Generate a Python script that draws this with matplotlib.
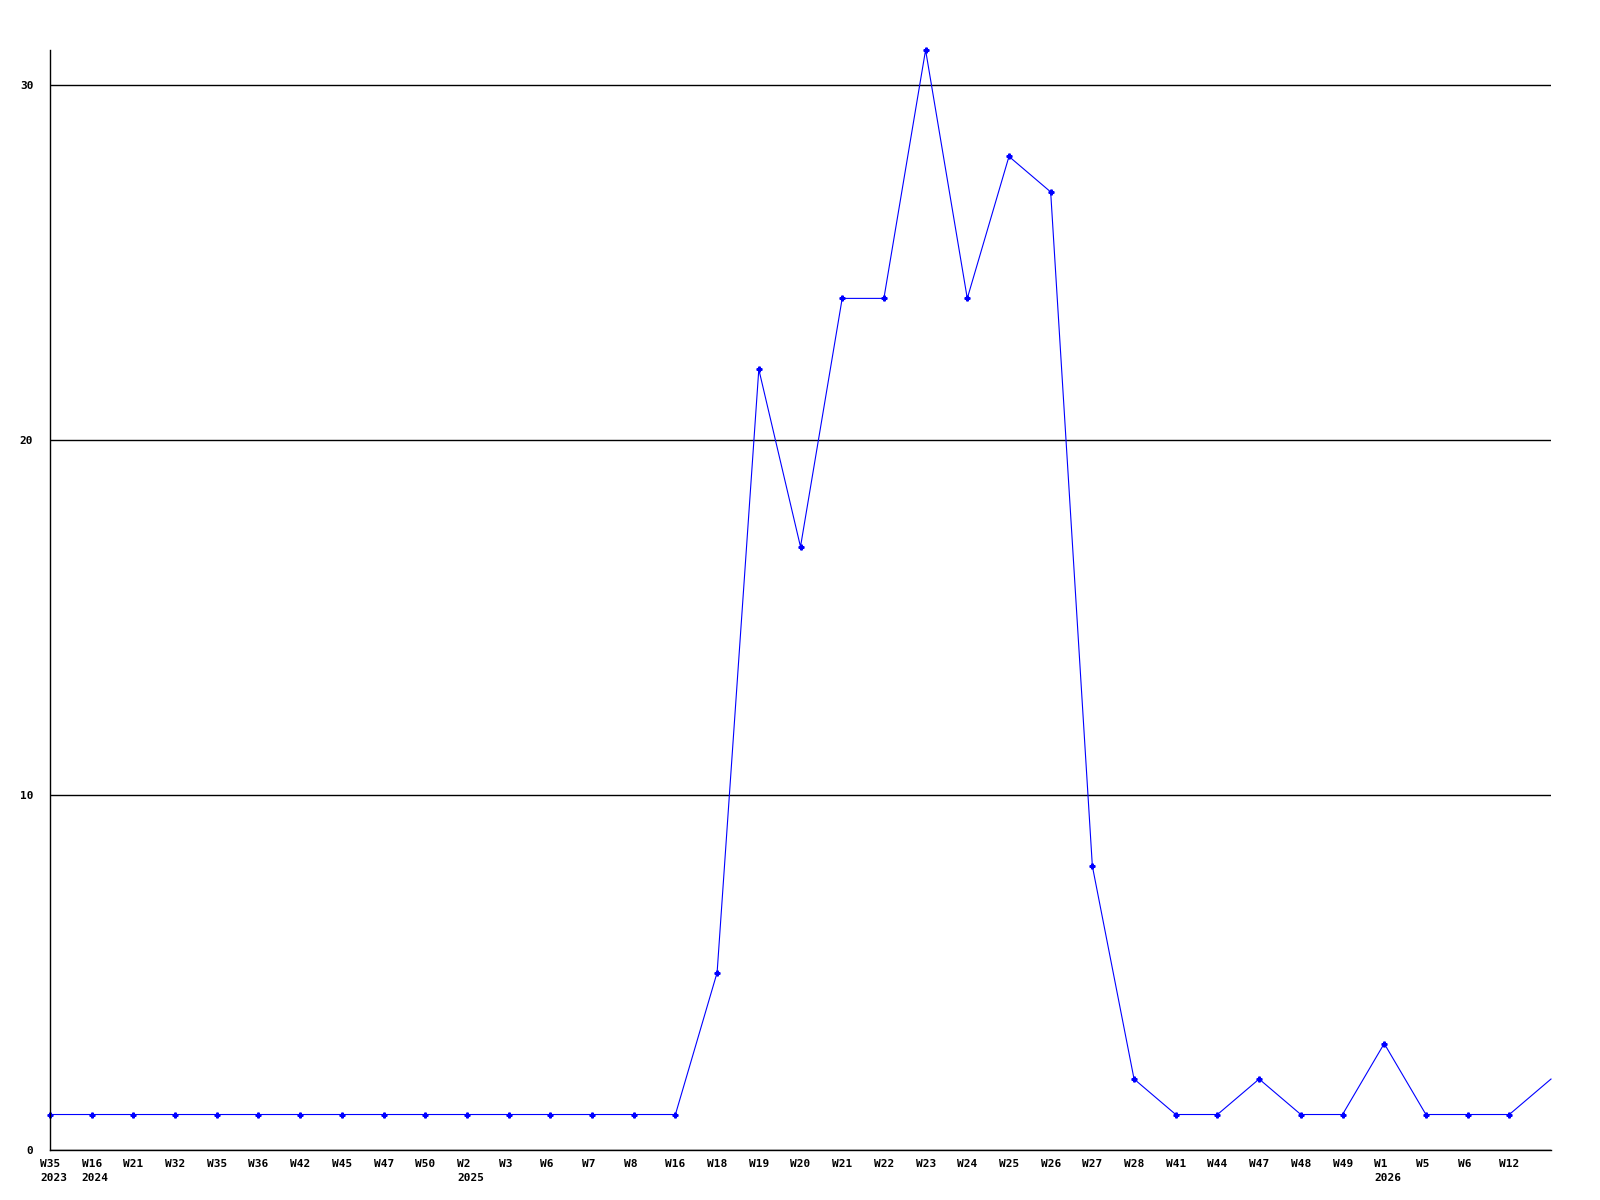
import matplotlib.pyplot as plt
import matplotlib.transforms as mtransforms
import numpy as np

weeks = ["W35", "W16", "W21", "W32", "W35", "W36", "W42", "W45", "W47", "W50",
         "W2", "W3", "W6", "W7", "W8", "W16", "W18", "W19", "W20", "W21",
         "W22", "W23", "W24", "W25", "W26", "W27", "W28", "W41", "W44", "W47",
         "W48", "W49", "W1", "W5", "W6", "W12", ""]
years = ["2023", "2024", "", "", "", "", "", "", "", "",
         "2025", "", "", "", "", "", "", "", "", "",
         "", "", "", "", "", "", "", "", "", "",
         "", "", "2026", "", "", "", ""]
counts = [1, 1, 1, 1, 1, 1, 1, 1, 1, 1,
          1, 1, 1, 1, 1, 1, 5, 22, 17, 24,
          24, 31, 24, 28, 27, 8, 2, 1, 1, 2,
          1, 1, 3, 1, 1, 1, 2]

x = np.arange(len(counts))

fig = plt.figure(figsize=(16, 12), dpi=100)
ax = fig.add_axes([50 / 1600, 1 - 1150 / 1200, 1501 / 1600, 1100 / 1200])

# the last point sits on the right edge and has no marker in the original
ax.plot(x, counts, color="#0000ff", linewidth=0.8, marker="P", markersize=3.5,
        markevery=list(range(len(counts) - 1)), clip_on=False)

ax.set_xlim(0, len(counts) - 1)
ax.set_ylim(0, 31)
ax.set_yticks([0, 10, 20, 30])
ax.yaxis.grid(True, color="black", linewidth=1.0)
ax.set_axisbelow(True)

for s in ["top", "right"]:
    ax.spines[s].set_visible(False)
for s in ["left", "bottom"]:
    ax.spines[s].set_color("black")
    ax.spines[s].set_linewidth(1.0)

# x labels: left aligned, starting a little before each point
ax.set_xticks(x)
ax.set_xticklabels([])
shift = mtransforms.ScaledTranslation(-10 / 100, -9 / 100, fig.dpi_scale_trans)
trans = ax.get_xaxis_transform() + shift
for xi, w, y in zip(x, weeks, years):
    txt = w + ("\n" + y if y else "")
    ax.text(xi, 0, txt, transform=trans, ha="left", va="top",
            family="DejaVu Sans Mono", fontweight="bold", fontsize=8,
            linespacing=1.45)

for lab in ax.get_yticklabels():
    lab.set_family("DejaVu Sans Mono")
    lab.set_fontweight("bold")
    lab.set_fontsize(8)

ax.tick_params(axis="both", length=0)
ax.tick_params(axis="y", pad=12)

fig.savefig("out.png", dpi=100, facecolor="white")
